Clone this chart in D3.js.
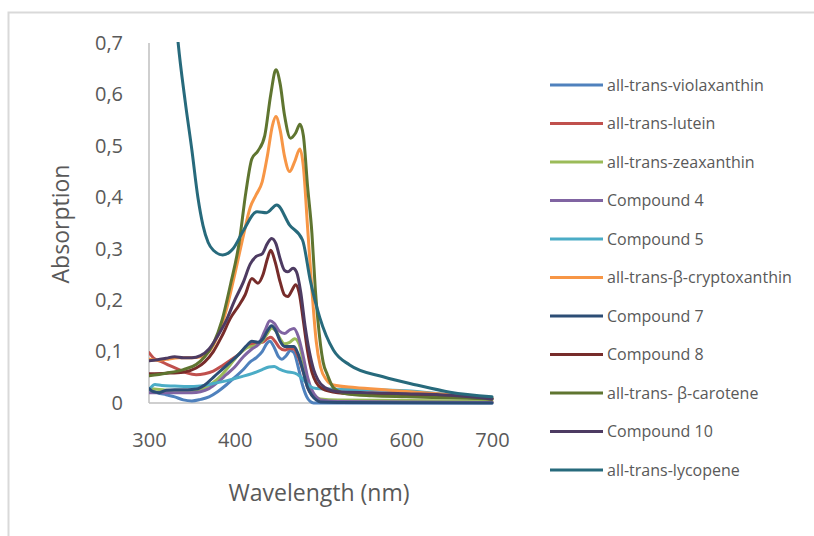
<!DOCTYPE html>
<html><head><meta charset="utf-8">
<script src="https://cdn.jsdelivr.net/npm/d3@7"></script>
<style>body{margin:0;background:#fff}svg{display:block}text{font-family:"Open Sans",sans-serif;fill:#595959}</style>
</head><body><svg id="c" width="814" height="536"></svg>
<script>
const seriesNames = ["all-trans-violaxanthin","all-trans-lutein","all-trans-zeaxanthin","Compound 4","Compound 5","all-trans-\u03B2-cryptoxanthin","Compound 7","Compound 8","all-trans- \u03B2-carotene","Compound 10","all-trans-lycopene"];
const seriesColors = ["#4F81BD","#C0504D","#9BBB59","#8064A2","#4BACC6","#F79646","#2C4D75","#772C2A","#5F7530","#4D3B62","#276A7C"];
const xTicks = [300,400,500,600,700];
const yTicks = [0,0.1,0.2,0.3,0.4,0.5,0.6,0.7];
const yTickLabels = ["0","0,1","0,2","0,3","0,4","0,5","0,6","0,7"];

const violaxanthin = [[300,0.026],[310,0.02],[320,0.016],[330,0.012],[340,0.006],[350,0.004],[360,0.007],[370,0.012],[380,0.022],[390,0.035],[400,0.05],[410,0.065],[418,0.08],[425,0.088],[432,0.1],[438,0.117],[441,0.12],[446,0.108],[451,0.09],[455,0.085],[460,0.092],[465,0.102],[469,0.098],[474,0.07],[479,0.035],[484,0.012],[488,0.003],[492,0],[600,0],[700,0]];
const lutein = [[300,0.098],[305,0.088],[315,0.08],[325,0.072],[335,0.065],[345,0.058],[355,0.055],[365,0.057],[375,0.062],[385,0.072],[395,0.083],[405,0.095],[415,0.11],[425,0.117],[432,0.118],[438,0.125],[442,0.128],[447,0.12],[452,0.108],[458,0.103],[464,0.106],[469,0.105],[474,0.09],[480,0.06],[485,0.03],[490,0.015],[495,0.008],[500,0.005],[520,0.004],[600,0.003],[700,0.002]];
const zeaxanthin = [[300,0.028],[320,0.025],[340,0.024],[355,0.025],[365,0.03],[375,0.04],[385,0.055],[395,0.075],[405,0.095],[415,0.108],[425,0.112],[432,0.12],[438,0.135],[443,0.146],[448,0.14],[453,0.125],[458,0.115],[464,0.118],[470,0.125],[475,0.115],[480,0.08],[485,0.045],[490,0.022],[495,0.012],[500,0.008],[520,0.006],[600,0.005],[700,0.004]];
const compound4 = [[300,0.02],[320,0.02],[340,0.02],[350,0.02],[360,0.022],[370,0.028],[380,0.04],[390,0.055],[400,0.07],[410,0.09],[420,0.105],[428,0.115],[435,0.14],[441,0.16],[446,0.155],[452,0.14],[458,0.135],[464,0.142],[469,0.145],[474,0.13],[480,0.09],[485,0.05],[490,0.025],[495,0.012],[500,0.006],[520,0.003],[600,0.002],[700,0.001]];
const compound5 = [[300,0.026],[307,0.036],[315,0.034],[330,0.033],[345,0.032],[360,0.033],[375,0.038],[390,0.043],[405,0.05],[420,0.057],[432,0.065],[440,0.07],[446,0.071],[452,0.066],[460,0.061],[470,0.058],[476,0.052],[482,0.042],[488,0.032],[495,0.028],[510,0.027],[550,0.026],[600,0.024],[650,0.016],[700,0.01]];
const cryptoxanthin = [[300,0.085],[310,0.083],[320,0.085],[335,0.088],[350,0.088],[360,0.09],[370,0.1],[380,0.13],[390,0.18],[400,0.25],[410,0.325],[418,0.38],[425,0.405],[432,0.43],[438,0.48],[444,0.54],[448,0.557],[453,0.53],[458,0.48],[464,0.45],[470,0.47],[476,0.494],[480,0.46],[485,0.34],[490,0.22],[495,0.12],[500,0.07],[507,0.045],[515,0.035],[540,0.03],[580,0.025],[620,0.02],[660,0.015],[700,0.01]];
const compound7 = [[300,0.028],[305,0.022],[312,0.02],[320,0.025],[330,0.026],[345,0.026],[355,0.027],[365,0.035],[375,0.05],[385,0.065],[395,0.08],[405,0.095],[413,0.11],[420,0.12],[427,0.118],[433,0.125],[438,0.14],[443,0.15],[448,0.14],[453,0.12],[458,0.11],[464,0.11],[469,0.11],[474,0.095],[480,0.06],[485,0.03],[490,0.015],[495,0.006],[500,0.002],[520,0.001],[700,0]];
const compound8 = [[300,0.057],[320,0.058],[340,0.06],[355,0.068],[365,0.08],[375,0.1],[385,0.13],[395,0.165],[405,0.19],[412,0.21],[420,0.242],[427,0.233],[433,0.25],[438,0.28],[442,0.297],[447,0.275],[453,0.235],[458,0.21],[462,0.207],[467,0.22],[471,0.23],[475,0.215],[480,0.16],[485,0.1],[490,0.06],[495,0.04],[502,0.028],[520,0.02],[560,0.016],[600,0.014],[650,0.012],[700,0.008]];
const betaCarotene = [[300,0.053],[320,0.058],[340,0.065],[355,0.075],[365,0.09],[375,0.115],[385,0.16],[395,0.23],[405,0.31],[413,0.41],[420,0.475],[427,0.49],[435,0.52],[442,0.6],[448,0.648],[453,0.62],[458,0.56],[465,0.515],[471,0.525],[476,0.542],[480,0.52],[485,0.42],[490,0.33],[494,0.22],[497,0.16],[503,0.08],[508,0.055],[515,0.03],[530,0.018],[560,0.014],[600,0.012],[650,0.01],[700,0.008]];
const compound10 = [[300,0.082],[310,0.084],[320,0.087],[330,0.09],[340,0.088],[350,0.088],[360,0.092],[370,0.105],[380,0.13],[390,0.16],[400,0.2],[410,0.235],[418,0.27],[425,0.285],[432,0.29],[438,0.31],[443,0.32],[448,0.31],[453,0.28],[458,0.258],[462,0.255],[468,0.262],[472,0.255],[477,0.215],[482,0.15],[487,0.1],[492,0.065],[497,0.045],[505,0.03],[520,0.022],[560,0.02],[600,0.018],[650,0.015],[700,0.008]];
const lycopene = [[320,0.98],[327,0.84],[334,0.70],[342,0.589],[350,0.492],[357,0.4],[363,0.345],[369,0.312],[375,0.297],[386,0.288],[398,0.3],[410,0.335],[426,0.372],[437,0.37],[449,0.385],[464,0.346],[479,0.317],[488,0.239],[499,0.167],[515,0.103],[534,0.074],[573,0.051],[612,0.035],[651,0.021],[700,0.012]];

const seriesData = [violaxanthin,lutein,zeaxanthin,compound4,compound5,cryptoxanthin,compound7,compound8,betaCarotene,compound10,lycopene];

const svg = d3.select("#c");
const m = {left:149, right:492, top:43, bottom:403};
const x = d3.scaleLinear().domain([300,700]).range([m.left,m.right]);
const y = d3.scaleLinear().domain([0,0.7]).range([m.bottom,m.top]);

svg.append("rect").attr("x",8.5).attr("y",12.5).attr("width",820).attr("height",540)
  .attr("fill","none").attr("stroke","#d9d9d9").attr("stroke-width",2);

svg.append("defs").append("clipPath").attr("id","clip")
  .append("rect").attr("x",m.left).attr("y",m.top-1).attr("width",m.right-m.left+3).attr("height",m.bottom-m.top+4);

svg.append("line").attr("x1",m.left).attr("x2",m.left).attr("y1",m.top).attr("y2",m.bottom)
  .attr("stroke","#bfbfbf").attr("stroke-width",1.5);
svg.append("line").attr("x1",m.left).attr("x2",m.right).attr("y1",m.bottom).attr("y2",m.bottom)
  .attr("stroke","#bfbfbf").attr("stroke-width",1.5);

const yAxis = d3.axisLeft(y).tickValues(yTicks).tickFormat((d,i)=>yTickLabels[i]).tickSize(0).tickPadding(26);
const gy = svg.append("g").attr("transform",`translate(${m.left},0)`).call(yAxis);
gy.select(".domain").remove();
gy.selectAll("text").style("font-size","20px").attr("fill","#595959").style("font-family","'Open Sans',sans-serif");

const xAxis = d3.axisBottom(x).tickValues(xTicks).tickFormat(d3.format("d")).tickSize(0).tickPadding(30);
const gx = svg.append("g").attr("transform",`translate(0,${m.bottom})`).call(xAxis);
gx.select(".domain").remove();
gx.selectAll("text").style("font-size","20px").attr("fill","#595959").style("font-family","'Open Sans',sans-serif");

svg.append("text").attr("x",319).attr("y",501).attr("text-anchor","middle").style("font-size","23px").text("Wavelength (nm)");
svg.append("text").attr("transform","translate(69,224) rotate(-90)").attr("text-anchor","middle").style("font-size","23px").text("Absorption");

const line = d3.line().x(d=>x(d[0])).y(d=>y(d[1])).curve(d3.curveMonotoneX);
const gl = svg.append("g").attr("clip-path","url(#clip)");
seriesData.forEach((s,i)=>{
  gl.append("path").datum(s).attr("d",line).attr("fill","none")
    .attr("stroke",seriesColors[i]).attr("stroke-width",3).attr("stroke-linejoin","round").attr("stroke-linecap","round");
});

const lg = svg.append("g");
seriesNames.forEach((n,i)=>{
  const yy = 85 + i*38.5;
  lg.append("line").attr("x1",550).attr("x2",603).attr("y1",yy).attr("y2",yy)
    .attr("stroke",seriesColors[i]).attr("stroke-width",3);
  lg.append("text").attr("x",607).attr("y",yy).attr("dy","0.35em").style("font-size","16px").text(n);
});
</script></body></html>
